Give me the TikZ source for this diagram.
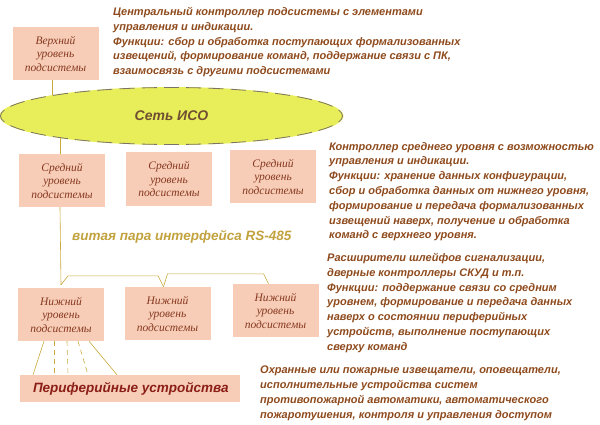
\documentclass[tikz,border=0pt]{standalone}
\usepackage{fontspec}
\setmainfont{Liberation Serif}
\setsansfont{Liberation Sans}
\usetikzlibrary{positioning,shapes.geometric}
\pgfdeclarelayer{bg}
\pgfsetlayers{bg,main}
\definecolor{boxfill}{HTML}{F7CDB8}
\definecolor{wire}{HTML}{C9A93C}
\definecolor{descr}{HTML}{8E4A1C}
\definecolor{boxtext}{HTML}{86381E}
\definecolor{netfill}{HTML}{E8EE5A}
\definecolor{netline}{HTML}{5A5040}
\definecolor{periph}{HTML}{8B1E16}
\definecolor{rscol}{HTML}{C2A23E}

\begin{document}
\begin{tikzpicture}[
  x=1pt, y=-1pt,
  level/.style={fill=boxfill, minimum width=86pt, minimum height=53pt, align=center, text=boxtext, inner sep=2pt,
    font=\fontsize{11.5}{13.5}\selectfont\itshape},
  note/.style={anchor=north west, align=left, text=descr, inner sep=0pt,
    font=\sffamily\bfseries\itshape\fontsize{11}{14.8}\selectfont},
  wire/.style={draw=wire, semithick},
  dashwire/.style={wire, dash pattern=on 5pt off 4pt},
  netedge/.style={draw=netline!80, line width=0.8pt}
]
\useasboundingbox (0,0) rectangle (600,425);

% upper level and network
\node[level] (top) at (55.5,53.5) {Верхний\\уровень\\подсистемы};
\node[ellipse, fill=netfill, minimum width=344pt, minimum height=58pt,
  text=netline!60!descr, font=\sffamily\bfseries\itshape\fontsize{14}{16}\selectfont] (net) at (171.5,116) {Сеть ИСО\hspace{12pt}};
% dashed rim, drawn piece by piece
\foreach \s/\e in {-12.1/12.1, 87.5/92.5, 167.9/192.1, 267.5/272.5}
  \draw[netedge] ([shift={(\s:171 and 28.5)}]net.center) arc [start angle=\s, end angle=\e, x radius=171, y radius=28.5];
\foreach \s/\e in {19.6/30.7, 34.8/42.7, 46.1/52.7, 55.6/61.6, 64.2/69.8, 72.3/77.5, 80/85.1}
  \foreach \o/\m in {0/1, 180/-1, 180/1, 360/-1}{
    \pgfmathsetmacro\sa{\o+\m*\s}
    \pgfmathsetmacro\ea{\o+\m*\e}
    \draw[netedge] ([shift={(\sa:171 and 28.5)}]net.center) arc [start angle=\sa, end angle=\ea, x radius=171, y radius=28.5];
  }

% middle level
\node[level] (mid1) at (62,180.5) {Средний\\уровень\\подсистемы};
\node[level] (mid2) at (169,179) {Средний\\уровень\\подсистемы};
\node[level] (mid3) at (273,176.5) {Средний\\уровень\\подсистемы};

\node[anchor=west, inner sep=0pt, text=rscol, font=\sffamily\bfseries\itshape\fontsize{13.5}{16}\selectfont] (rs) at (72,237) {витая пара интерфейса RS-485};

% lower level
\node[level] (low1) at (61,314.5) {Нижний\\уровень\\подсистемы};
\node[level] (low2) at (167.5,313.5) {Нижний\\уровень\\подсистемы};
\node[level] (low3) at (275.5,310.5) {Нижний\\уровень\\подсистемы};

\node[fill=boxfill, minimum width=220pt, minimum height=27pt] (periph) at (130,388.5) {};
\node[anchor=west, inner sep=0pt, text=periph, font=\sffamily\bfseries\itshape\fontsize{13.5}{16}\selectfont] (periphtext) at ([xshift=13pt]periph.west) {Периферийные устройства};

% descriptions
\node[note] (topnote) at (113,7) {Центральный контроллер подсистемы с элементами\\управления и индикации.\\Функции: сбор и обработка поступающих формализованных\\извещений, формирование команд, поддержание связи с ПК,\\взаимосвязь с другими подсистемами};
\node[note] (midnote) at (329,142) {Контроллер среднего уровня с возможностью\\управления и индикации.\\Функции: хранение данных конфигурации,\\сбор и обработка данных от нижнего уровня,\\формирование и передача формализованных\\извещений наверх, получение и обработка\\команд с верхнего уровня.};
\node[note] (lownote) at (327,253) {Расширители шлейфов сигнализации,\\дверные контроллеры СКУД и т.п.\\Функции: поддержание связи со средним\\уровнем, формирование и передача данных\\наверх о состоянии периферийных\\устройств, выполнение поступающих\\сверху команд};
\node[note] (perinote) at (260,366) {Охранные или пожарные извещатели, оповещатели,\\исполнительные устройства систем\\противопожарной автоматики, автоматического\\пожаротушения, контроля и управления доступом};

% connections
\begin{pgfonlayer}{bg}
\draw[wire] ([xshift=-3pt]top.south) -- ([xshift=-3pt]top.south |- net.center);
\draw[wire] ([xshift=-2pt]mid1.north) -- ([xshift=-2pt]mid1.north |- net.center);
\draw[wire] ([xshift=-2pt]mid1.south) -- ([yshift=3pt]low1.north);
\draw[wire] ([yshift=3pt]low1.north) -- ++(7,-9) -- ++(90,0) -- ([xshift=-4pt]low2.north);
\draw[wire] ([xshift=-4pt]low2.north) -- ++(4,-13) -- ++(96,0) -- ([xshift=-7pt]low3.north);
\foreach \st/\a/\b in {wire/-17/-97, dashwire/-7/-76, dashwire/6/-62, dashwire/17/-42, wire/28/-13}
  \draw[\st] ([xshift=\a pt]low1.south) -- ([xshift=\b pt]periph.north);
\end{pgfonlayer}

\end{tikzpicture}
\end{document}
